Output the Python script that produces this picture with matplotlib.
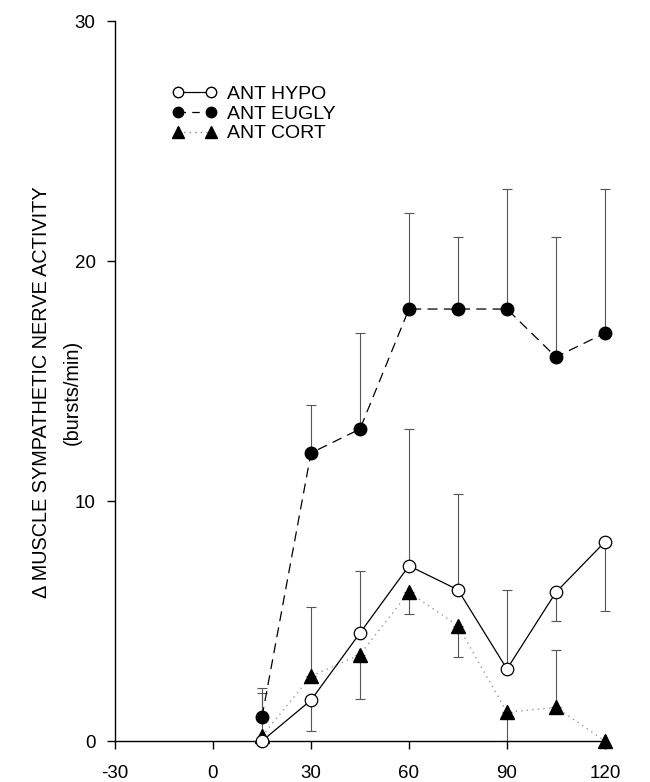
import matplotlib
matplotlib.use("Agg")
import matplotlib.pyplot as plt
from matplotlib.lines import Line2D

plt.rcParams['font.family'] = ['Liberation Sans', 'DejaVu Sans']
plt.rcParams['axes.unicode_minus'] = False

# ---- data ----
time = [15, 30, 45, 60, 75, 90, 105, 120]

hypo = [0.0, 1.7, 4.5, 7.3, 6.3, 3.0, 6.2, 8.3]
hypo_err_lo = [0.0, 1.3, 0.0, 0.0, 0.0, 0.0, 1.2, 2.9]
hypo_err_hi = [2.0, 0.0, 2.6, 5.7, 4.0, 3.3, 0.0, 0.0]

eugly = [1.0, 12.0, 13.0, 18.0, 18.0, 18.0, 16.0, 17.0]
eugly_err_hi = [1.2, 2.0, 4.0, 4.0, 3.0, 5.0, 5.0, 6.0]

cort = [0.2, 2.7, 3.6, 6.2, 4.8, 1.2, 1.4, 0.0]
cort_err_lo = [0.0, 0.0, 1.85, 0.9, 1.3, 1.2, 0.0, 0.0]
cort_err_hi = [0.0, 2.9, 0.0, 0.0, 0.0, 0.0, 2.4, 0.0]

labels = ["ANT HYPO", "ANT EUGLY", "ANT CORT"]
xticks = [-30, 0, 30, 60, 90, 120]
yticks = [0, 10, 20, 30]

fig = plt.figure(figsize=(6.5, 7.82), dpi=100)
ax = fig.add_axes([0.1769, 0.0524, 0.7538, 0.9207])

ebkw = dict(fmt='none', ecolor='#555555', elinewidth=0.8, capsize=3.5,
            capthick=0.8, zorder=1)

def draw_err(x, y, lo, hi):
    xs_hi = [xi for xi, h in zip(x, hi) if h > 0]
    ys_hi = [yi for yi, h in zip(y, hi) if h > 0]
    es_hi = [h for h in hi if h > 0]
    conts = []
    if xs_hi:
        conts.append(ax.errorbar(xs_hi, ys_hi, yerr=[[0]*len(es_hi), es_hi], **ebkw))
    xs_lo = [xi for xi, l in zip(x, lo) if l > 0]
    ys_lo = [yi for yi, l in zip(y, lo) if l > 0]
    es_lo = [l for l in lo if l > 0]
    if xs_lo:
        conts.append(ax.errorbar(xs_lo, ys_lo, yerr=[es_lo, [0]*len(es_lo)], **ebkw))
    for c in conts:
        for art in c.lines[1]:
            art.set_clip_on(False)
        for art in c.lines[2]:
            art.set_clip_on(False)

draw_err(time, eugly, [0]*len(time), eugly_err_hi)
draw_err(time, hypo, hypo_err_lo, hypo_err_hi)
draw_err(time, cort, cort_err_lo, cort_err_hi)

# lines
ax.plot(time, cort, linestyle=(0, (1, 3)), color='#999999', lw=1.0,
        zorder=2, clip_on=False)
ax.plot(time, cort, linestyle='none', marker='^', markersize=9.5,
        color='black', zorder=4, clip_on=False)
ax.plot(time, eugly, linestyle=(0, (8, 5)), color='black', lw=0.9,
        marker='o', markersize=9, markerfacecolor='black', zorder=3,
        clip_on=False)
ax.plot(time, hypo, linestyle='-', color='black', lw=0.9,
        marker='o', markersize=9, markerfacecolor='white',
        markeredgecolor='black', markeredgewidth=0.9, zorder=5,
        clip_on=False)

ax.set_xlim(-30, 120)
ax.set_ylim(0, 30)
ax.set_xticks(xticks)
ax.set_yticks(yticks)
ax.spines['top'].set_visible(False)
ax.spines['right'].set_visible(False)
for s in ['left', 'bottom']:
    ax.spines[s].set_linewidth(1.0)
ax.tick_params(axis='both', direction='out', length=6, width=1.0,
               labelsize=13.5)
ax.tick_params(axis='x', pad=11)
ax.tick_params(axis='y', pad=8)

# y label (two lines)
fig.text(42/650, 1 - 392/782, "\u0394 MUSCLE SYMPATHETIC NERVE ACTIVITY",
         rotation=90, ha='center', va='center', fontsize=14.3)
fig.text(72/650, 1 - 392/782, "(bursts/min)",
         rotation=90, ha='center', va='center', fontsize=14.3)

# legend
handles = [
    Line2D([], [], linestyle='-', color='black', lw=0.9, marker='o',
           markersize=7.5, markerfacecolor='white', markeredgecolor='black'),
    Line2D([], [], linestyle=(0, (6, 5)), color='black', lw=0.9, marker='o',
           markersize=7.5, markerfacecolor='black'),
    Line2D([], [], linestyle=(0, (1, 3)), color='#888888', lw=1.0, marker='^',
           markersize=8, markerfacecolor='black', markeredgecolor='black'),
]
leg = ax.legend(handles, labels, loc='upper left',
                bbox_to_anchor=(172/650, 1 - 85/782),
                bbox_transform=fig.transFigure, frameon=False,
                fontsize=14, numpoints=2, handlelength=2.3,
                handletextpad=0.55, labelspacing=0.12, borderpad=0,
                borderaxespad=0)

fig.savefig("out.png", dpi=100)
